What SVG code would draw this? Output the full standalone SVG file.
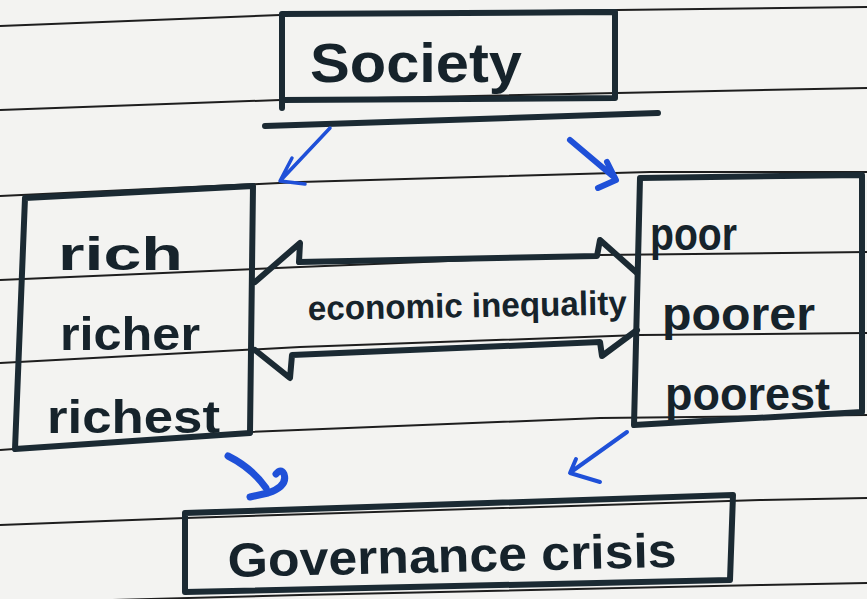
<svg xmlns="http://www.w3.org/2000/svg" width="867" height="599" viewBox="0 0 867 599">
<style>
.paper{fill:none;stroke:#1e1e1e;stroke-width:2}
.box{fill:none;stroke:#1b2a33;stroke-width:6;stroke-linejoin:round;stroke-linecap:round}
.ink{font-family:"Liberation Sans","DejaVu Sans",sans-serif;font-weight:bold;fill:#16232b}
.blue{fill:none;stroke:#1f50d8;stroke-linecap:round;stroke-linejoin:round}
.dbl{fill:none;stroke:#1b2a33;stroke-width:6;stroke-linejoin:round;stroke-linecap:round}
</style>
<rect width="867" height="599" fill="#f3f3f1"/>
<g id="paper-lines">
<path class="paper" d="M0,26 L280,15 L617,10 L867,7"/>
<path class="paper" d="M0,110 L280,100 L617,93 L867,88"/>
<path class="paper" d="M0,196 L300,182 L650,172 L867,172"/>
<path class="paper" d="M0,280 L300,267 L600,255 L867,252"/>
<path class="paper" d="M0,363 L300,347 L640,335 L867,333"/>
<path class="paper" d="M0,450 L250,432 L600,418 L867,415"/>
<path class="paper" d="M0,525 L185,518 L760,500 L867,498"/>
<path class="paper" d="M0,603 L300,595 L760,585 L867,583"/>
</g>
<g id="node-society">
<path class="box" d="M282,108 L282,14 L615,12 L615,98 L282,100"/>
<path class="box" d="M265,126 L658,113"/>
<text class="ink" x="310" y="82" font-size="56" textLength="212" lengthAdjust="spacingAndGlyphs">Society</text>
</g>
<g id="node-rich">
<path class="box" d="M25,198 L253,186 L250,433 L15,449 Z"/>
<text class="ink" x="58" y="270" font-size="46" textLength="125" lengthAdjust="spacingAndGlyphs">rich</text>
<text class="ink" x="60" y="350" font-size="46" textLength="140" lengthAdjust="spacingAndGlyphs">richer</text>
<text class="ink" x="47" y="433" font-size="46" textLength="173" lengthAdjust="spacingAndGlyphs">richest</text>
</g>
<g id="node-poor">
<path class="box" d="M640,178 L862,175 L862,412 L634,425 Z"/>
<text class="ink" x="650" y="250" font-size="46" textLength="87" lengthAdjust="spacingAndGlyphs">poor</text>
<text class="ink" x="662" y="330" font-size="46" textLength="153" lengthAdjust="spacingAndGlyphs">poorer</text>
<text class="ink" x="665" y="410" font-size="46" textLength="165" lengthAdjust="spacingAndGlyphs">poorest</text>
</g>
<g id="node-governance">
<path class="box" d="M185,513 L733,495 L730,580 L185,592 Z"/>
<text class="ink" x="228" y="577" font-size="48" textLength="449" lengthAdjust="spacingAndGlyphs" transform="rotate(-1.3 228 577)">Governance crisis</text>
</g>
<g id="connectors">
<path class="blue" stroke-width="3.5" d="M330,128 L281,180 M292,158 L280,181 L305,184"/>
<path class="blue" stroke-width="6" d="M570,140 L615,178 M607,162 L616,180 L598,188"/>
<path class="blue" stroke-width="7" d="M228,456 Q252,468 266,488 M250,497 L268,493 Q288,486 284,474 Q281,468 276,474"/>
<path class="blue" stroke-width="4" d="M627,432 L571,472 M576,459 L570,473 L600,482"/>
<g id="economic-inequality">
<path class="dbl" d="M255,282 L300,243 L299,262 L597,256 L600,240 L637,273"/>
<path class="dbl" d="M255,350 L290,378 L292,355 L600,342 L602,356 L637,330"/>
<text class="ink" x="308" y="320" font-size="34" textLength="319" lengthAdjust="spacingAndGlyphs" transform="rotate(-1 308 320)">economic inequality</text>
</g>
</g>
</svg>
